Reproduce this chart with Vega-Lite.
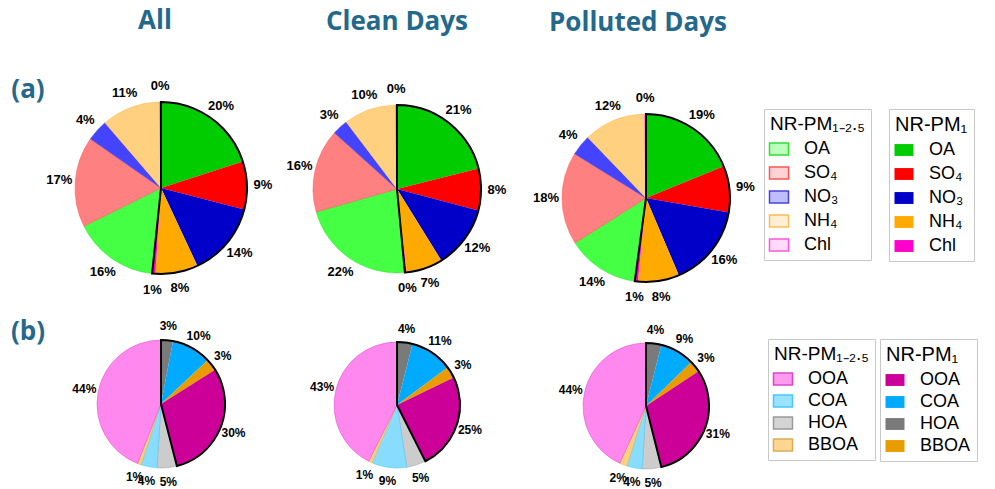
{
  "$schema": "https://vega.github.io/schema/vega-lite/v6.json",
  "background": "white",
  "padding": {"left": 0, "top": 8, "right": 5, "bottom": 5},
  "bounds": "flush",
  "spacing": 0,
  "columns": 4,
  "resolve": {
    "scale": {"theta": "independent", "color": "independent", "fill": "independent", "stroke": "independent"},
    "legend": {"color": "independent", "fill": "independent", "stroke": "independent"}
  },
  "config": {
    "view": {"stroke": null},
    "title": {"font": "Open Sans", "fontSize": 26, "fontWeight": "bold", "color": "#24698b", "baseline": "alphabetic", "frame": "group", "anchor": "middle"},
    "legend": {
      "titleFont": "Liberation Sans", "titleFontSize": 20, "titleFontWeight": "normal", "titleColor": "black", "titlePadding": 6,
      "labelFont": "Liberation Sans", "labelFontSize": 18, "labelColor": "black", "labelOffset": 16,
      "symbolType": "M-1.6,-1L1.6,-1L1.6,1L-1.6,1Z", "symbolSize": 141, "symbolStrokeWidth": 1.5,
      "padding": 6, "strokeColor": "#c8c8c8", "fillColor": "white", "rowPadding": 6, "cornerRadius": 0
    }
  },
  "datasets": {
    "a": [
      {"panel": "All", "frac": "PM1", "species": "OA", "i": 1, "value": 0.20},
      {"panel": "All", "frac": "PM1", "species": "SO₄", "i": 2, "value": 0.09},
      {"panel": "All", "frac": "PM1", "species": "NO₃", "i": 3, "value": 0.14},
      {"panel": "All", "frac": "PM1", "species": "NH₄", "i": 4, "value": 0.08},
      {"panel": "All", "frac": "PM1", "species": "Chl", "i": 5, "value": 0.006},
      {"panel": "All", "frac": "PM1-2.5", "species": "OA", "i": 6, "value": 0.16},
      {"panel": "All", "frac": "PM1-2.5", "species": "SO₄", "i": 7, "value": 0.17},
      {"panel": "All", "frac": "PM1-2.5", "species": "NO₃", "i": 8, "value": 0.04},
      {"panel": "All", "frac": "PM1-2.5", "species": "NH₄", "i": 9, "value": 0.11},
      {"panel": "All", "frac": "PM1-2.5", "species": "Chl", "i": 10, "value": 0.003},
      {"panel": "Clean", "frac": "PM1", "species": "OA", "i": 1, "value": 0.21},
      {"panel": "Clean", "frac": "PM1", "species": "SO₄", "i": 2, "value": 0.08},
      {"panel": "Clean", "frac": "PM1", "species": "NO₃", "i": 3, "value": 0.12},
      {"panel": "Clean", "frac": "PM1", "species": "NH₄", "i": 4, "value": 0.07},
      {"panel": "Clean", "frac": "PM1", "species": "Chl", "i": 5, "value": 0.003},
      {"panel": "Clean", "frac": "PM1-2.5", "species": "OA", "i": 6, "value": 0.22},
      {"panel": "Clean", "frac": "PM1-2.5", "species": "SO₄", "i": 7, "value": 0.16},
      {"panel": "Clean", "frac": "PM1-2.5", "species": "NO₃", "i": 8, "value": 0.03},
      {"panel": "Clean", "frac": "PM1-2.5", "species": "NH₄", "i": 9, "value": 0.10},
      {"panel": "Clean", "frac": "PM1-2.5", "species": "Chl", "i": 10, "value": 0.003},
      {"panel": "Polluted", "frac": "PM1", "species": "OA", "i": 1, "value": 0.19},
      {"panel": "Polluted", "frac": "PM1", "species": "SO₄", "i": 2, "value": 0.09},
      {"panel": "Polluted", "frac": "PM1", "species": "NO₃", "i": 3, "value": 0.16},
      {"panel": "Polluted", "frac": "PM1", "species": "NH₄", "i": 4, "value": 0.08},
      {"panel": "Polluted", "frac": "PM1", "species": "Chl", "i": 5, "value": 0.006},
      {"panel": "Polluted", "frac": "PM1-2.5", "species": "OA", "i": 6, "value": 0.14},
      {"panel": "Polluted", "frac": "PM1-2.5", "species": "SO₄", "i": 7, "value": 0.18},
      {"panel": "Polluted", "frac": "PM1-2.5", "species": "NO₃", "i": 8, "value": 0.04},
      {"panel": "Polluted", "frac": "PM1-2.5", "species": "NH₄", "i": 9, "value": 0.12},
      {"panel": "Polluted", "frac": "PM1-2.5", "species": "Chl", "i": 10, "value": 0.003}
    ],
    "b": [
      {"panel": "All", "frac": "PM1", "species": "HOA", "i": 1, "value": 0.03},
      {"panel": "All", "frac": "PM1", "species": "COA", "i": 2, "value": 0.10},
      {"panel": "All", "frac": "PM1", "species": "BBOA", "i": 3, "value": 0.03},
      {"panel": "All", "frac": "PM1", "species": "OOA", "i": 4, "value": 0.30},
      {"panel": "All", "frac": "PM1-2.5", "species": "HOA", "i": 5, "value": 0.05},
      {"panel": "All", "frac": "PM1-2.5", "species": "COA", "i": 6, "value": 0.04},
      {"panel": "All", "frac": "PM1-2.5", "species": "BBOA", "i": 7, "value": 0.01},
      {"panel": "All", "frac": "PM1-2.5", "species": "OOA", "i": 8, "value": 0.44},
      {"panel": "Clean", "frac": "PM1", "species": "HOA", "i": 1, "value": 0.04},
      {"panel": "Clean", "frac": "PM1", "species": "COA", "i": 2, "value": 0.11},
      {"panel": "Clean", "frac": "PM1", "species": "BBOA", "i": 3, "value": 0.03},
      {"panel": "Clean", "frac": "PM1", "species": "OOA", "i": 4, "value": 0.25},
      {"panel": "Clean", "frac": "PM1-2.5", "species": "HOA", "i": 5, "value": 0.05},
      {"panel": "Clean", "frac": "PM1-2.5", "species": "COA", "i": 6, "value": 0.09},
      {"panel": "Clean", "frac": "PM1-2.5", "species": "BBOA", "i": 7, "value": 0.01},
      {"panel": "Clean", "frac": "PM1-2.5", "species": "OOA", "i": 8, "value": 0.43},
      {"panel": "Polluted", "frac": "PM1", "species": "HOA", "i": 1, "value": 0.04},
      {"panel": "Polluted", "frac": "PM1", "species": "COA", "i": 2, "value": 0.09},
      {"panel": "Polluted", "frac": "PM1", "species": "BBOA", "i": 3, "value": 0.03},
      {"panel": "Polluted", "frac": "PM1", "species": "OOA", "i": 4, "value": 0.31},
      {"panel": "Polluted", "frac": "PM1-2.5", "species": "HOA", "i": 5, "value": 0.05},
      {"panel": "Polluted", "frac": "PM1-2.5", "species": "COA", "i": 6, "value": 0.04},
      {"panel": "Polluted", "frac": "PM1-2.5", "species": "BBOA", "i": 7, "value": 0.02},
      {"panel": "Polluted", "frac": "PM1-2.5", "species": "OOA", "i": 8, "value": 0.44}
    ]
  },
  "concat": [
    {
      "width": 56, "height": 16,
      "data": {"values": [{"label": "(a)"}]},
      "mark": {"type": "text", "font": "Open Sans", "fontSize": 26, "fontWeight": "bold", "color": "#24698b"},
      "encoding": {"text": {"field": "label", "type": "nominal"}}
    },
    {
      "width": 210, "height": 212,
      "title": {"text": "All", "dx": -6, "offset": 46},
      "data": {"name": "a"},
      "transform": [
        {"filter": "datum.panel === 'All'"},
        {"stack": "value", "groupby": [], "sort": [{"field": "i", "order": "ascending"}], "as": ["v0", "v1"]}
      ],
      "layer": [
        {
          "transform": [{"filter": "datum.frac === 'PM1-2.5'"}],
          "mark": {"type": "arc", "outerRadius": 86, "strokeWidth": 0.5},
          "encoding": {
            "theta": {"field": "v0", "type": "quantitative"},
            "theta2": {"field": "v1"},
            "fill": {"field": "species", "type": "nominal", "scale": {"domain": ["OA", "SO₄", "NO₃", "NH₄", "Chl"], "range": ["#44FF44", "#FF8080", "#4444FF", "#FFD080", "#FF99EE"]}, "legend": null},
            "stroke": {"field": "species", "type": "nominal", "scale": {"domain": ["OA", "SO₄", "NO₃", "NH₄", "Chl"], "range": ["#33DD33", "#FF5555", "#4444DD", "#FFBB55", "#FF55DD"]}, "legend": null}
          }
        },
        {
          "transform": [{"filter": "datum.frac === 'PM1'"}],
          "mark": {"type": "arc", "outerRadius": 86},
          "encoding": {
            "theta": {"field": "v0", "type": "quantitative"},
            "theta2": {"field": "v1"},
            "color": {"field": "species", "type": "nominal", "sort": ["OA", "SO₄", "NO₃", "NH₄", "Chl"], "scale": {"range": ["#00CC00", "#FF0000", "#0000C8", "#FFAA00", "#FF00CC"]}, "legend": null}
          }
        },
        {
          "transform": [{"filter": "datum.frac === 'PM1'"}, {"aggregate": [{"op": "min", "field": "v0", "as": "s0"}, {"op": "max", "field": "v1", "as": "s1"}]}],
          "mark": {"type": "arc", "outerRadius": 86, "fillOpacity": 0, "stroke": "black", "strokeWidth": 2},
          "encoding": {"theta": {"field": "s0", "type": "quantitative"}, "theta2": {"field": "s1"}}
        },
        {
          "mark": {"type": "text", "radius": 102, "font": "Liberation Sans", "fontWeight": "bold", "fontSize": 13, "color": "black"},
          "encoding": {
            "theta": {"field": "value", "type": "quantitative", "stack": true},
            "order": {"field": "i", "type": "quantitative"},
            "detail": {"field": "i", "type": "nominal"},
            "text": {"field": "value", "type": "quantitative", "format": ".0%"}
          }
        }
      ]
    },
    {
      "width": 262, "height": 214,
      "title": {"text": "Clean Days", "dx": 0, "offset": 47},
      "data": {"name": "a"},
      "transform": [
        {"filter": "datum.panel === 'Clean'"},
        {"stack": "value", "groupby": [], "sort": [{"field": "i", "order": "ascending"}], "as": ["v0", "v1"]}
      ],
      "layer": [
        {
          "transform": [{"filter": "datum.frac === 'PM1-2.5'"}],
          "mark": {"type": "arc", "outerRadius": 84, "strokeWidth": 0.5},
          "encoding": {
            "theta": {"field": "v0", "type": "quantitative"},
            "theta2": {"field": "v1"},
            "fill": {"field": "species", "type": "nominal", "scale": {"domain": ["OA", "SO₄", "NO₃", "NH₄", "Chl"], "range": ["#44FF44", "#FF8080", "#4444FF", "#FFD080", "#FF99EE"]}, "legend": null},
            "stroke": {"field": "species", "type": "nominal", "scale": {"domain": ["OA", "SO₄", "NO₃", "NH₄", "Chl"], "range": ["#33DD33", "#FF5555", "#4444DD", "#FFBB55", "#FF55DD"]}, "legend": null}
          }
        },
        {
          "transform": [{"filter": "datum.frac === 'PM1'"}],
          "mark": {"type": "arc", "outerRadius": 84},
          "encoding": {
            "theta": {"field": "v0", "type": "quantitative"},
            "theta2": {"field": "v1"},
            "color": {"field": "species", "type": "nominal", "sort": ["OA", "SO₄", "NO₃", "NH₄", "Chl"], "scale": {"range": ["#00CC00", "#FF0000", "#0000C8", "#FFAA00", "#FF00CC"]}, "legend": null}
          }
        },
        {
          "transform": [{"filter": "datum.frac === 'PM1'"}, {"aggregate": [{"op": "min", "field": "v0", "as": "s0"}, {"op": "max", "field": "v1", "as": "s1"}]}],
          "mark": {"type": "arc", "outerRadius": 84, "fillOpacity": 0, "stroke": "black", "strokeWidth": 2},
          "encoding": {"theta": {"field": "s0", "type": "quantitative"}, "theta2": {"field": "s1"}}
        },
        {
          "mark": {"type": "text", "radius": 100, "font": "Liberation Sans", "fontWeight": "bold", "fontSize": 13, "color": "black"},
          "encoding": {
            "theta": {"field": "value", "type": "quantitative", "stack": true},
            "order": {"field": "i", "type": "quantitative"},
            "detail": {"field": "i", "type": "nominal"},
            "text": {"field": "value", "type": "quantitative", "format": ".0%"}
          }
        }
      ]
    },
    {
      "width": 236, "height": 232,
      "title": {"text": "Polluted Days", "dx": -8, "offset": 46},
      "data": {"name": "a"},
      "transform": [
        {"filter": "datum.panel === 'Polluted'"},
        {"stack": "value", "groupby": [], "sort": [{"field": "i", "order": "ascending"}], "as": ["v0", "v1"]}
      ],
      "layer": [
        {
          "transform": [{"filter": "datum.frac === 'PM1-2.5'"}],
          "mark": {"type": "arc", "outerRadius": 84, "strokeWidth": 0.5},
          "encoding": {
            "theta": {"field": "v0", "type": "quantitative"},
            "theta2": {"field": "v1"},
            "fill": {"field": "species", "type": "nominal", "scale": {"domain": ["OA", "SO₄", "NO₃", "NH₄", "Chl"], "range": ["#44FF44", "#FF8080", "#4444FF", "#FFD080", "#FF99EE"]},
              "legend": {"orient": "none", "legendX": 236, "legendY": 27, "titleFontSize": 19, "title": "NR-PM₁₋₂.₅", "encode": {"symbols": {"update": {"fillOpacity": {"value": 0.35}, "strokeWidth": {"value": 1.5}}}}}},
            "stroke": {"field": "species", "type": "nominal", "scale": {"domain": ["OA", "SO₄", "NO₃", "NH₄", "Chl"], "range": ["#33DD33", "#FF5555", "#4444DD", "#FFBB55", "#FF55DD"]},
              "legend": {"orient": "none", "legendX": 236, "legendY": 27, "titleFontSize": 19, "title": "NR-PM₁₋₂.₅", "encode": {"symbols": {"update": {"fillOpacity": {"value": 0.35}, "strokeWidth": {"value": 1.5}}}}}}
          }
        },
        {
          "transform": [{"filter": "datum.frac === 'PM1'"}],
          "mark": {"type": "arc", "outerRadius": 84},
          "encoding": {
            "theta": {"field": "v0", "type": "quantitative"},
            "theta2": {"field": "v1"},
            "color": {"field": "species", "type": "nominal", "sort": ["OA", "SO₄", "NO₃", "NH₄", "Chl"], "scale": {"range": ["#00CC00", "#FF0000", "#0000C8", "#FFAA00", "#FF00CC"]},
              "legend": {"orient": "none", "legendX": 361, "legendY": 27, "title": "NR-PM₁"}}
          }
        },
        {
          "transform": [{"filter": "datum.frac === 'PM1'"}, {"aggregate": [{"op": "min", "field": "v0", "as": "s0"}, {"op": "max", "field": "v1", "as": "s1"}]}],
          "mark": {"type": "arc", "outerRadius": 84, "fillOpacity": 0, "stroke": "black", "strokeWidth": 2},
          "encoding": {"theta": {"field": "s0", "type": "quantitative"}, "theta2": {"field": "s1"}}
        },
        {
          "mark": {"type": "text", "radius": 100, "font": "Liberation Sans", "fontWeight": "bold", "fontSize": 13, "color": "black"},
          "encoding": {
            "theta": {"field": "value", "type": "quantitative", "stack": true},
            "order": {"field": "i", "type": "quantitative"},
            "detail": {"field": "i", "type": "nominal"},
            "text": {"field": "value", "type": "quantitative", "format": ".0%"}
          }
        }
      ]
    },
    {
      "width": 56, "height": 36,
      "data": {"values": [{"label": "(b)"}]},
      "mark": {"type": "text", "font": "Open Sans", "fontSize": 26, "fontWeight": "bold", "color": "#24698b"},
      "encoding": {"text": {"field": "label", "type": "nominal"}}
    },
    {
      "width": 210, "height": 180,
      "data": {"name": "b"},
      "transform": [
        {"filter": "datum.panel === 'All'"},
        {"stack": "value", "groupby": [], "sort": [{"field": "i", "order": "ascending"}], "as": ["v0", "v1"]}
      ],
      "layer": [
        {
          "transform": [{"filter": "datum.frac === 'PM1-2.5'"}],
          "mark": {"type": "arc", "outerRadius": 64, "strokeWidth": 0.5},
          "encoding": {
            "theta": {"field": "v0", "type": "quantitative"},
            "theta2": {"field": "v1"},
            "fill": {"field": "species", "type": "nominal", "scale": {"domain": ["OOA", "COA", "HOA", "BBOA"], "range": ["#FF88EE", "#88DDFF", "#CCCCCC", "#FFD080"]}, "legend": null},
            "stroke": {"field": "species", "type": "nominal", "scale": {"domain": ["OOA", "COA", "HOA", "BBOA"], "range": ["#DD44CC", "#44C8FF", "#999999", "#DDAA55"]}, "legend": null}
          }
        },
        {
          "transform": [{"filter": "datum.frac === 'PM1'"}],
          "mark": {"type": "arc", "outerRadius": 64},
          "encoding": {
            "theta": {"field": "v0", "type": "quantitative"},
            "theta2": {"field": "v1"},
            "color": {"field": "species", "type": "nominal", "sort": ["OOA", "COA", "HOA", "BBOA"], "scale": {"range": ["#CC0099", "#00AAFF", "#7A7A7A", "#E89C00"]}, "legend": null}
          }
        },
        {
          "transform": [{"filter": "datum.frac === 'PM1'"}, {"aggregate": [{"op": "min", "field": "v0", "as": "s0"}, {"op": "max", "field": "v1", "as": "s1"}]}],
          "mark": {"type": "arc", "outerRadius": 64, "fillOpacity": 0, "stroke": "black", "strokeWidth": 2},
          "encoding": {"theta": {"field": "s0", "type": "quantitative"}, "theta2": {"field": "s1"}}
        },
        {
          "mark": {"type": "text", "radius": 78, "font": "Liberation Sans", "fontWeight": "bold", "fontSize": 12, "color": "black"},
          "encoding": {
            "theta": {"field": "value", "type": "quantitative", "stack": true},
            "order": {"field": "i", "type": "quantitative"},
            "detail": {"field": "i", "type": "nominal"},
            "text": {"field": "value", "type": "quantitative", "format": ".0%"}
          }
        }
      ]
    },
    {
      "width": 262, "height": 182,
      "data": {"name": "b"},
      "transform": [
        {"filter": "datum.panel === 'Clean'"},
        {"stack": "value", "groupby": [], "sort": [{"field": "i", "order": "ascending"}], "as": ["v0", "v1"]}
      ],
      "layer": [
        {
          "transform": [{"filter": "datum.frac === 'PM1-2.5'"}],
          "mark": {"type": "arc", "outerRadius": 63, "strokeWidth": 0.5},
          "encoding": {
            "theta": {"field": "v0", "type": "quantitative"},
            "theta2": {"field": "v1"},
            "fill": {"field": "species", "type": "nominal", "scale": {"domain": ["OOA", "COA", "HOA", "BBOA"], "range": ["#FF88EE", "#88DDFF", "#CCCCCC", "#FFD080"]}, "legend": null},
            "stroke": {"field": "species", "type": "nominal", "scale": {"domain": ["OOA", "COA", "HOA", "BBOA"], "range": ["#DD44CC", "#44C8FF", "#999999", "#DDAA55"]}, "legend": null}
          }
        },
        {
          "transform": [{"filter": "datum.frac === 'PM1'"}],
          "mark": {"type": "arc", "outerRadius": 63},
          "encoding": {
            "theta": {"field": "v0", "type": "quantitative"},
            "theta2": {"field": "v1"},
            "color": {"field": "species", "type": "nominal", "sort": ["OOA", "COA", "HOA", "BBOA"], "scale": {"range": ["#CC0099", "#00AAFF", "#7A7A7A", "#E89C00"]}, "legend": null}
          }
        },
        {
          "transform": [{"filter": "datum.frac === 'PM1'"}, {"aggregate": [{"op": "min", "field": "v0", "as": "s0"}, {"op": "max", "field": "v1", "as": "s1"}]}],
          "mark": {"type": "arc", "outerRadius": 63, "fillOpacity": 0, "stroke": "black", "strokeWidth": 2},
          "encoding": {"theta": {"field": "s0", "type": "quantitative"}, "theta2": {"field": "s1"}}
        },
        {
          "mark": {"type": "text", "radius": 77, "font": "Liberation Sans", "fontWeight": "bold", "fontSize": 12, "color": "black"},
          "encoding": {
            "theta": {"field": "value", "type": "quantitative", "stack": true},
            "order": {"field": "i", "type": "quantitative"},
            "detail": {"field": "i", "type": "nominal"},
            "text": {"field": "value", "type": "quantitative", "format": ".0%"}
          }
        }
      ]
    },
    {
      "width": 236, "height": 184,
      "data": {"name": "b"},
      "transform": [
        {"filter": "datum.panel === 'Polluted'"},
        {"stack": "value", "groupby": [], "sort": [{"field": "i", "order": "ascending"}], "as": ["v0", "v1"]}
      ],
      "layer": [
        {
          "transform": [{"filter": "datum.frac === 'PM1-2.5'"}],
          "mark": {"type": "arc", "outerRadius": 63, "strokeWidth": 0.5},
          "encoding": {
            "theta": {"field": "v0", "type": "quantitative"},
            "theta2": {"field": "v1"},
            "fill": {"field": "species", "type": "nominal", "scale": {"domain": ["OOA", "COA", "HOA", "BBOA"], "range": ["#FF88EE", "#88DDFF", "#CCCCCC", "#FFD080"]},
              "legend": {"orient": "none", "legendX": 240, "legendY": 25, "rowPadding": 4, "titleFontSize": 19, "title": "NR-PM₁₋₂.₅", "encode": {"symbols": {"update": {"fillOpacity": {"value": 0.85}, "strokeWidth": {"value": 1.5}}}}}},
            "stroke": {"field": "species", "type": "nominal", "scale": {"domain": ["OOA", "COA", "HOA", "BBOA"], "range": ["#DD44CC", "#44C8FF", "#999999", "#DDAA55"]},
              "legend": {"orient": "none", "legendX": 240, "legendY": 25, "rowPadding": 4, "titleFontSize": 19, "title": "NR-PM₁₋₂.₅", "encode": {"symbols": {"update": {"fillOpacity": {"value": 0.85}, "strokeWidth": {"value": 1.5}}}}}}
          }
        },
        {
          "transform": [{"filter": "datum.frac === 'PM1'"}],
          "mark": {"type": "arc", "outerRadius": 63},
          "encoding": {
            "theta": {"field": "v0", "type": "quantitative"},
            "theta2": {"field": "v1"},
            "color": {"field": "species", "type": "nominal", "sort": ["OOA", "COA", "HOA", "BBOA"], "scale": {"range": ["#CC0099", "#00AAFF", "#7A7A7A", "#E89C00"]},
              "legend": {"orient": "none", "legendX": 352, "legendY": 25, "rowPadding": 4, "title": "NR-PM₁"}}
          }
        },
        {
          "transform": [{"filter": "datum.frac === 'PM1'"}, {"aggregate": [{"op": "min", "field": "v0", "as": "s0"}, {"op": "max", "field": "v1", "as": "s1"}]}],
          "mark": {"type": "arc", "outerRadius": 63, "fillOpacity": 0, "stroke": "black", "strokeWidth": 2},
          "encoding": {"theta": {"field": "s0", "type": "quantitative"}, "theta2": {"field": "s1"}}
        },
        {
          "mark": {"type": "text", "radius": 77, "font": "Liberation Sans", "fontWeight": "bold", "fontSize": 12, "color": "black"},
          "encoding": {
            "theta": {"field": "value", "type": "quantitative", "stack": true},
            "order": {"field": "i", "type": "quantitative"},
            "detail": {"field": "i", "type": "nominal"},
            "text": {"field": "value", "type": "quantitative", "format": ".0%"}
          }
        }
      ]
    }
  ]
}
